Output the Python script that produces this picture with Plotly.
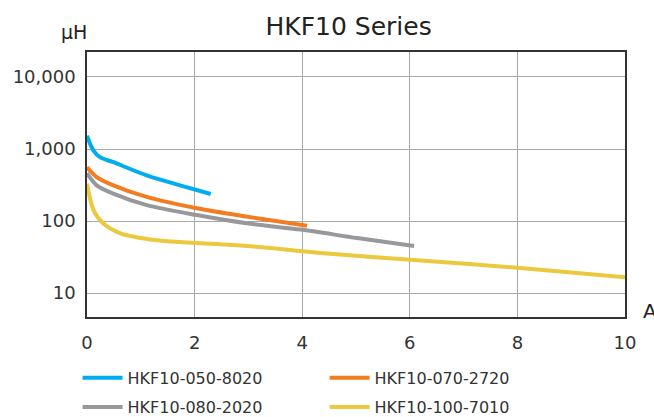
import plotly.graph_objects as go

# Current (A) and inductance (uH)
names = ["HKF10-050-8020", "HKF10-070-2720", "HKF10-080-2020", "HKF10-100-7010"]
colors = ["#00AEEF", "#F47C20", "#98989C", "#EBC83E"]

x_050 = [0.0, 0.06, 0.12, 0.24, 0.49, 1.11, 1.73, 2.3]
y_050 = [1530, 1170, 950, 770, 655, 430, 313, 237]

x_070 = [0.0, 0.18, 0.49, 1.11, 2.04, 2.97, 4.09]
y_070 = [558, 408, 313, 216, 150, 115, 86]

x_080 = [0.0, 0.18, 0.49, 1.11, 2.04, 2.97, 3.97, 5.02, 6.08]
y_080 = [460, 313, 240, 166, 121, 93, 76, 58, 45]

x_100 = [0.0, 0.12, 0.3, 0.61, 1.3, 2.97, 4.52, 6.01, 8.0, 10.0]
y_100 = [330, 142, 93, 68, 54, 45, 35, 29, 22.4, 16.5]

x_ticks = [0, 2, 4, 6, 8, 10]
y_ticks = [10, 100, 1000, 10000]
y_ticktext = ["10", "100", "1,000", "10,000"]

series = [(x_050, y_050), (x_070, y_070), (x_080, y_080), (x_100, y_100)]
legend_ids = ["legend", "legend", "legend2", "legend2"]

fig = go.Figure()
for (xs, ys), n, c, lg in zip(series, names, colors, legend_ids):
    fig.add_trace(go.Scatter(x=xs, y=ys, name=n, mode="lines", legend=lg,
                             line=dict(color=c, width=4, shape="spline", smoothing=0.8)))

font_family = "DejaVu Sans, Liberation Sans, sans-serif"
leg_common = dict(orientation="h", x=-0.0175, xanchor="left", yanchor="middle",
                  entrywidth=192, entrywidthmode="pixels", bgcolor="rgba(0,0,0,0)",
                  font=dict(size=16, color="#333333", family=font_family), itemwidth=40,
                  traceorder="normal")
fig.update_layout(
    width=654, height=417,
    margin=dict(l=87, r=29, t=52, b=100, autoexpand=False),
    paper_bgcolor="white", plot_bgcolor="white",
    font=dict(family=font_family, color="#333333", size=18),
    title=dict(text="HKF10 Series", x=0.533, xanchor="center", y=0.938, yanchor="middle",
               font=dict(size=25, color="#222222")),
    showlegend=True,
    legend=dict(y=-0.230, **leg_common),
    legend2=dict(y=-0.340, **leg_common),
    xaxis=dict(range=[0, 10], tickvals=x_ticks, showgrid=True, gridcolor="#A8A8A8", gridwidth=1,
               zeroline=False, showline=True, linecolor="#333333", linewidth=1.5, mirror=True,
               ticks="", tickfont=dict(size=18), ticklabelstandoff=9, automargin=False),
    yaxis=dict(type="log", range=[0.667, 4.347], tickvals=y_ticks, ticktext=y_ticktext,
               showgrid=True, gridcolor="#A8A8A8", gridwidth=1, zeroline=False,
               showline=True, linecolor="#333333", linewidth=1.5, mirror=True,
               ticks="", tickfont=dict(size=18), ticklabelstandoff=6, automargin=False),
    annotations=[
        dict(text="\u03bcH", xref="paper", yref="paper", x=-0.024, y=1.075, xanchor="center",
             yanchor="middle", showarrow=False, font=dict(size=19, color="#222222")),
        dict(text="A", xref="paper", yref="paper", x=1.03, y=0.023, xanchor="left",
             yanchor="middle", showarrow=False, font=dict(size=20, color="#222222")),
    ],
)

# remove the default 8px page margin so the figure fills the window exactly
fig.write_html("out.html", config={"displayModeBar": False},
               post_script="document.body.style.margin='0px';")
